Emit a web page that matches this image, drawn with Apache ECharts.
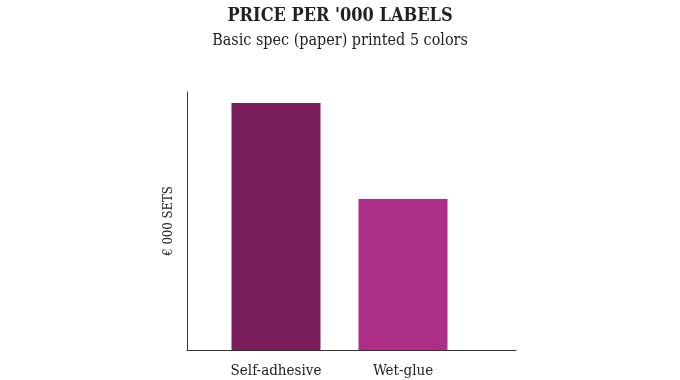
<!DOCTYPE html>
<html><head><meta charset="utf-8">
<script src="https://cdn.jsdelivr.net/npm/echarts@6/dist/echarts.min.js"></script>
<style>html,body{margin:0;padding:0;background:#fff}#c{width:680px;height:380px}</style>
</head><body><div id="c"></div>
<script>
const categories = ['Self-adhesive', 'Wet-glue'];
const values = [95.7, 58.5];
const barColors = ['#7A1F5C', '#AD2E86'];
const titleText = "PRICE PER '000 LABELS";
const subtitleText = 'Basic spec (paper) printed 5 colors';
const yAxisName = '€ 000 SETS';

const chart = echarts.init(document.getElementById('c'));
chart.setOption({
  animation: false,
  title: {
    text: titleText,
    subtext: subtitleText,
    left: 'center',
    top: 2,
    itemGap: 8,
    textStyle: { fontFamily: 'DejaVu Serif Condensed', fontWeight: 'bold', fontSize: 18, color: '#222' },
    subtextStyle: { fontFamily: 'DejaVu Serif Condensed', fontSize: 16, color: '#222' }
  },
  grid: [
    { left: 212.5, right: 213.5, top: 92, bottom: 30 },
    { left: 187, right: 164, top: 92, bottom: 30 }
  ],
  xAxis: [
    { type: 'category', gridIndex: 0, data: categories,
      axisLine: { show: false }, axisTick: { show: false },
      axisLabel: { margin: 14, fontFamily: 'DejaVu Serif Condensed', fontSize: 15, color: '#222' } },
    { type: 'value', gridIndex: 1, min: 0, max: 1,
      axisLine: { show: true, lineStyle: { color: '#333', width: 1 } },
      axisTick: { show: false }, axisLabel: { show: false }, splitLine: { show: false } }
  ],
  yAxis: [
    { type: 'value', gridIndex: 0, min: 0, max: 100,
      axisLine: { show: false }, axisTick: { show: false }, axisLabel: { show: false }, splitLine: { show: false } },
    { type: 'value', gridIndex: 1, min: 0, max: 100,
      name: yAxisName, nameLocation: 'middle', nameGap: 12,
      nameTextStyle: { fontFamily: 'DejaVu Serif Condensed', fontSize: 13, color: '#222' },
      axisLine: { show: true, lineStyle: { color: '#333', width: 1 } },
      axisTick: { show: false }, axisLabel: { show: false }, splitLine: { show: false } }
  ],
  series: [{
    type: 'bar', xAxisIndex: 0, yAxisIndex: 0, barWidth: 89,
    data: values.map((v, i) => ({ value: v, itemStyle: { color: barColors[i] } }))
  }]
});
</script></body></html>
